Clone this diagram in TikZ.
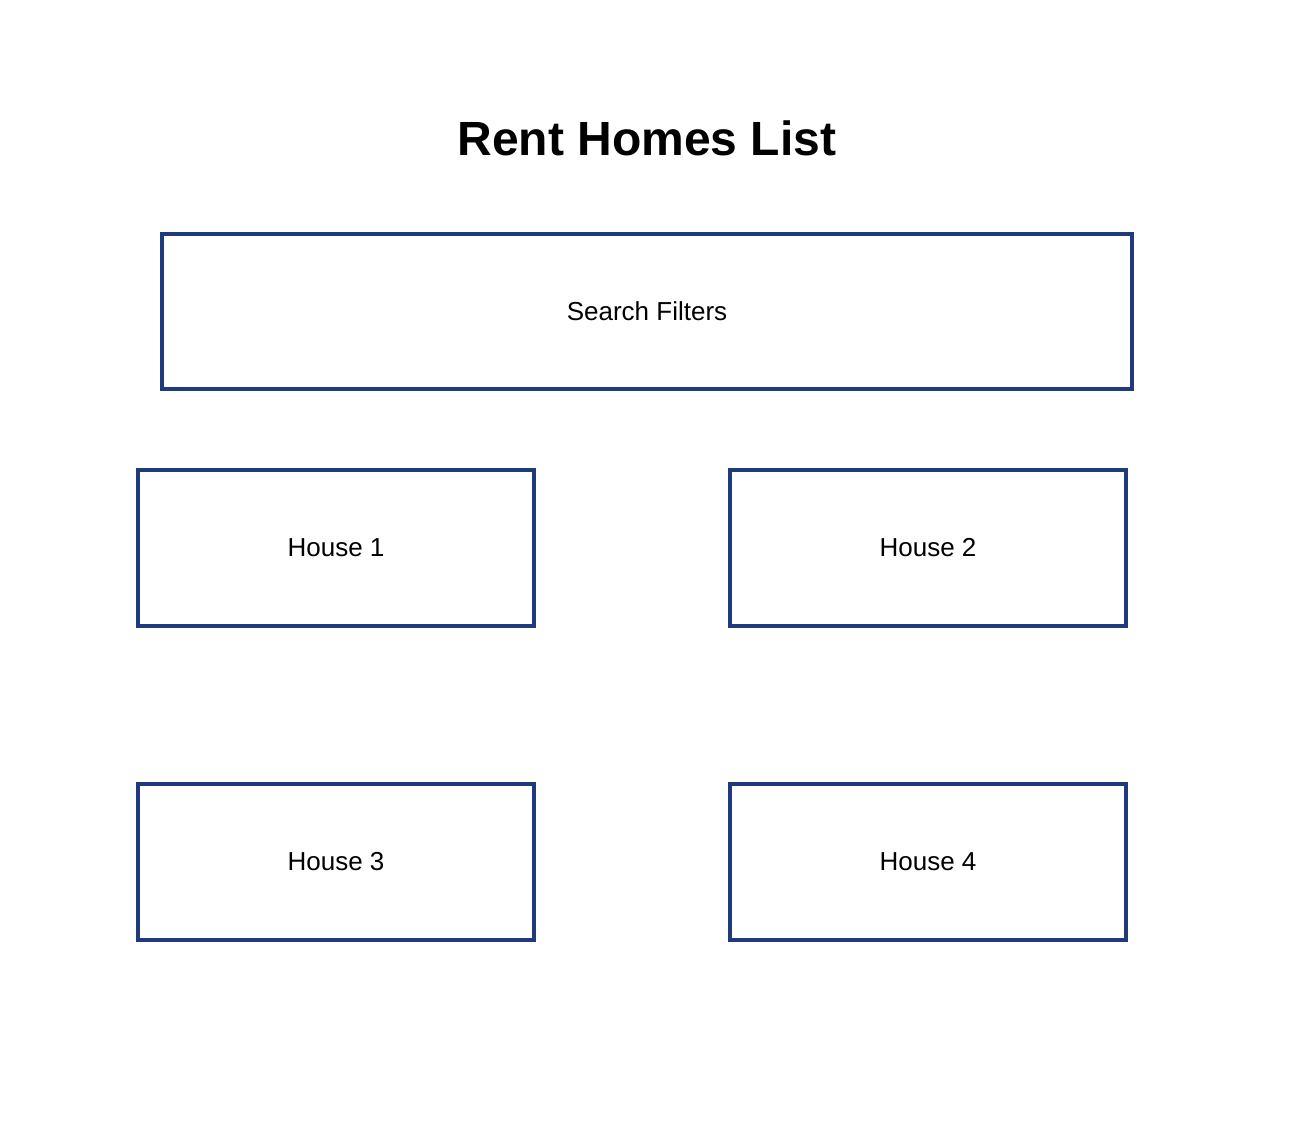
\documentclass[tikz,border=0pt]{standalone}
\usepackage{fontspec}
\setmainfont{Liberation Sans}
\definecolor{boxblue}{HTML}{1F3A7D}
\begin{document}
\begin{tikzpicture}[x=1pt,y=-1pt,
  panel/.style={draw=boxblue,line width=4pt,fill=white,inner sep=0pt,font=\fontsize{26}{31}\selectfont,text=black},
  housebox/.style={panel,minimum width=396pt,minimum height=156pt}]
\useasboundingbox[fill=white] (0,0) rectangle (1296,1146);
\node[font=\bfseries\fontsize{48}{57}\selectfont] (title) at (647,138) {Rent Homes List};
\node[panel,minimum width=970pt,minimum height=155pt] (search) at (647,311.5) {Search Filters};
\node[housebox] (h1) at (336,548) {House 1};
\node[housebox] (h2) at (928,548) {House 2};
\node[housebox] (h3) at (336,862) {House 3};
\node[housebox] (h4) at (928,862) {House 4};
\end{tikzpicture}
\end{document}
